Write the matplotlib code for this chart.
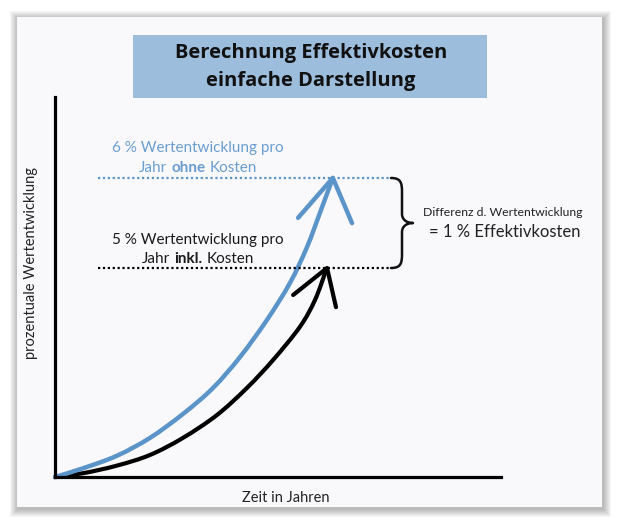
import matplotlib
matplotlib.use('Agg')
import matplotlib.pyplot as plt
from matplotlib.patches import Rectangle, PathPatch
from matplotlib.path import Path

plt.rcParams['font.family'] = ['Lato', 'DejaVu Sans']

# Kurven (x = Zeit, y = Wertentwicklung, beliebige Einheiten 0..100)
blau_x = [0, 6.3, 13.9, 21.3, 28.7, 35.4, 41.5, 47.5, 52.7, 56.5, 59.4, 62.3]
blau_y = [0, 2.3, 5.6, 10.3, 16.6, 23.4, 31.6, 41.3, 51.1, 60.5, 69.5, 78.7]
schwarz_x = [0, 6.3, 13.9, 21.3, 28.7, 36.3, 43.0, 48.9, 54.9, 58.3, 60.8]
schwarz_y = [0, 1.0, 3.0, 5.8, 10.3, 16.3, 23.4, 30.8, 39.5, 46.6, 54.5]

# Pfeilspitzen: linker Flügel, Spitze, rechter Flügel
blau_spitze_x = [54.5, 62.3, 66.6]
blau_spitze_y = [68.2, 78.7, 66.8]
schwarz_spitze_x = [53.4, 61.0, 63.0]
schwarz_spitze_y = [47.9, 55.0, 44.7]

niveau_ohne = 78.7   # 6 % ohne Kosten
niveau_inkl = 55.0   # 5 % inkl. Kosten
linie_von, linie_bis = 9.6, 75.3

titel = ['Berechnung Effektivkosten', 'einfache Darstellung']

BLAU = '#5b94c9'
BLAU_TEXT = '#6b9ed0'
BOX = '#9dbddc'
PANEL = '#f9f8fb'


def glatt(xs, ys):
    pts = list(zip(xs, ys))
    verts, codes = [pts[0]], [Path.MOVETO]
    n = len(pts)
    for i in range(n - 1):
        p0 = pts[max(i - 1, 0)]
        p1, p2 = pts[i], pts[i + 1]
        p3 = pts[min(i + 2, n - 1)]
        c1 = (p1[0] + (p2[0] - p0[0]) / 6, p1[1] + (p2[1] - p0[1]) / 6)
        c2 = (p2[0] - (p3[0] - p1[0]) / 6, p2[1] - (p3[1] - p1[1]) / 6)
        verts += [c1, c2, p2]
        codes += [Path.CURVE4] * 3
    return Path(verts, codes)


fig = plt.figure(figsize=(6.19, 5.25), dpi=100)
fig.patch.set_facecolor('white')

# Hintergrund in Pixelkoordinaten
bg = fig.add_axes([0, 0, 1, 1])
bg.set_xlim(0, 619)
bg.set_ylim(525, 0)
bg.axis('off')

# weicher Schatten + Panel
for i in range(8, 0, -1):
    bg.add_patch(Rectangle((17 - i + 1, 17 - i + 2), 585 + 2 * i, 490 + 2 * i,
                           facecolor='black', alpha=0.035, edgecolor='none'))
bg.add_patch(Rectangle((17, 17), 585, 490, facecolor=PANEL, edgecolor='none'))

# Titelbox
bg.add_patch(Rectangle((133, 35), 354, 63, facecolor=BOX, edgecolor='none'))
for y, t in zip([53, 81], titel):
    bg.text(311, y, t, ha='center', va='center', fontsize=14.5, fontweight='bold',
            color='#111111', family=['Open Sans', 'DejaVu Sans'])

# geschweifte Klammer
brace = Path([(391, 178), (401, 178), (402, 183), (402, 192),
              (402, 214), (402, 219), (406, 223), (413, 223),
              (406, 223), (402, 227), (402, 232),
              (402, 254), (402, 263), (401, 268), (391, 268)],
             [Path.MOVETO, Path.CURVE4, Path.CURVE4, Path.CURVE4,
              Path.LINETO, Path.CURVE4, Path.CURVE4, Path.CURVE4,
              Path.CURVE4, Path.CURVE4, Path.CURVE4,
              Path.LINETO, Path.CURVE4, Path.CURVE4, Path.CURVE4])
bg.add_patch(PathPatch(brace, facecolor='none', edgecolor='#111111', lw=1.8,
                       joinstyle='round', capstyle='round'))

bg.text(503, 212, 'Differenz d. Wertentwicklung', ha='center', va='center',
        fontsize=8.8, color='#222222')
bg.text(505, 232, '= 1 % Effektivkosten', ha='center', va='center',
        fontsize=12, color='#222222')

fig.canvas.draw()
r = fig.canvas.get_renderer()


def breite(t, size, w='normal'):
    o = bg.text(0, 0, t, fontsize=size, fontweight=w)
    b = o.get_window_extent(r).width
    o.remove()
    return b


def zeile(y, teile, farbe, cx=198, size=11):
    """Text aus normal/fett-Teilen zentriert bei cx setzen."""
    luecke = breite('x x', size) - breite('xx', size)
    breiten = [breite(t, size, w) for t, w in teile]
    x = cx - (sum(breiten) + luecke * (len(teile) - 1)) / 2
    for (t, w), b in zip(teile, breiten):
        bg.text(x, y, t, ha='left', va='center', fontsize=size, color=farbe,
                fontweight=w)
        x += b + luecke


zeile(148, [('6 % Wertentwicklung pro', 'normal')], BLAU_TEXT)
zeile(168, [('Jahr', 'normal'), ('ohne', 'bold'), ('Kosten', 'normal')], BLAU_TEXT)
zeile(240, [('5 % Wertentwicklung pro', 'normal')], '#1a1a1a')
zeile(259, [('Jahr', 'normal'), ('inkl.', 'bold'), ('Kosten', 'normal')], '#1a1a1a')

# Diagramm
ax = fig.add_axes([55 / 619, (525 - 477) / 525, 446 / 619, 380 / 525])
ax.set_facecolor('none')
ax.set_xlim(0, 100)
ax.set_ylim(0, 100)
for s in ['top', 'right']:
    ax.spines[s].set_visible(False)
for s in ['left', 'bottom']:
    ax.spines[s].set_linewidth(2.3)
    ax.spines[s].set_color('black')
ax.set_xticks([])
ax.set_yticks([])

ax.hlines(niveau_ohne, linie_von, linie_bis, colors=BLAU, lw=1.6,
          linestyles=(0, (1, 1.2)))
ax.hlines(niveau_inkl, linie_von, linie_bis, colors='black', lw=1.6,
          linestyles=(0, (1, 1.2)))

ax.add_patch(PathPatch(glatt(schwarz_x, schwarz_y), facecolor='none',
                       edgecolor='black', lw=3, capstyle='round', clip_on=False))
ax.plot(schwarz_spitze_x, schwarz_spitze_y, color='black', lw=3,
        solid_capstyle='round', solid_joinstyle='round', clip_on=False)
ax.add_patch(PathPatch(glatt(blau_x, blau_y), facecolor='none',
                       edgecolor=BLAU, lw=3.2, capstyle='round', clip_on=False))
ax.plot(blau_spitze_x, blau_spitze_y, color=BLAU, lw=3.2,
        solid_capstyle='round', solid_joinstyle='round', clip_on=False)

ax.set_xlabel('Zeit in Jahren', fontsize=10.5, color='#222222')
ax.xaxis.set_label_coords(0.518, -0.037)
ax.set_ylabel('prozentuale Wertentwicklung', fontsize=10.5, color='#222222')
ax.yaxis.set_label_coords(-0.038, 0.563)

fig.savefig('out.png', dpi=100)
